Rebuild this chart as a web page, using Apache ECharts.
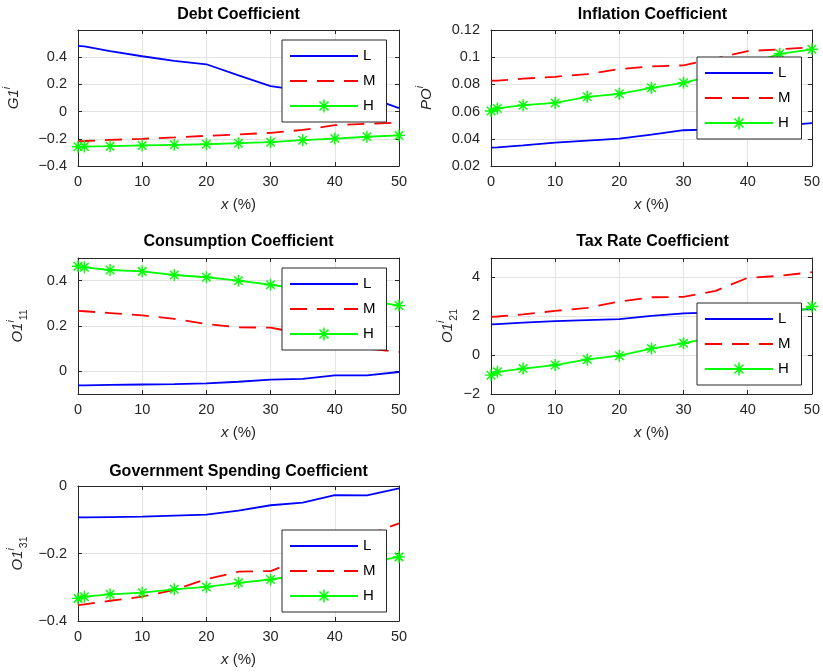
<!DOCTYPE html>
<html>
<head>
<meta charset="utf-8">
<script src="https://cdn.jsdelivr.net/npm/echarts@6/dist/echarts.min.js"></script>
<style>
  html, body { margin: 0; padding: 0; background: #fff; }
  #chart { width: 823px; height: 672px; }
</style>
</head>
<body>
<div id="chart"></div>
<script>
// Share of x (%) at which each coefficient was evaluated
const xPct = [0, 1, 5, 10, 15, 20, 25, 30, 35, 40, 45, 50];
const xTicks = [0, 10, 20, 30, 40, 50];

// Debt coefficient G1^i
const debtL = [0.484, 0.480, 0.445, 0.407, 0.373, 0.348, 0.267, 0.188, 0.155, 0.135, 0.110, 0.025];
const debtM = [-0.217, -0.216, -0.208, -0.200, -0.190, -0.178, -0.168, -0.156, -0.135, -0.100, -0.090, -0.080];
const debtH = [-0.259, -0.257, -0.254, -0.249, -0.244, -0.240, -0.232, -0.225, -0.210, -0.198, -0.185, -0.175];
const debtTicks = [-0.4, -0.2, 0, 0.2, 0.4];

// Inflation coefficient PO^i
const inflL = [0.0335, 0.0337, 0.0352, 0.0372, 0.0387, 0.0401, 0.0430, 0.0463, 0.0470, 0.0482, 0.0497, 0.0515];
const inflM = [0.0827, 0.0828, 0.0842, 0.0856, 0.0876, 0.0913, 0.0932, 0.0940, 0.0990, 0.1045, 0.1058, 0.1073];
const inflH = [0.0605, 0.0623, 0.0647, 0.0664, 0.0709, 0.0731, 0.0775, 0.0812, 0.0870, 0.0950, 0.1025, 0.1058];
const inflTicks = [0.02, 0.04, 0.06, 0.08, 0.1, 0.12];

// Consumption coefficient O1^i_11
const consL = [-0.062, -0.062, -0.060, -0.058, -0.056, -0.053, -0.046, -0.037, -0.033, -0.018, -0.018, -0.003];
const consM = [0.267, 0.265, 0.257, 0.247, 0.231, 0.209, 0.194, 0.193, 0.165, 0.125, 0.100, 0.086];
const consH = [0.464, 0.459, 0.447, 0.441, 0.425, 0.415, 0.400, 0.382, 0.362, 0.338, 0.313, 0.290];
const consTicks = [0, 0.2, 0.4];

// Tax rate coefficient O1^i_21
const taxL = [1.58, 1.60, 1.67, 1.75, 1.80, 1.85, 2.02, 2.15, 2.20, 2.25, 2.31, 2.37];
const taxM = [1.97, 1.99, 2.10, 2.28, 2.43, 2.76, 2.98, 3.00, 3.31, 3.98, 4.08, 4.27];
const taxH = [-1.03, -0.86, -0.69, -0.51, -0.22, -0.03, 0.34, 0.61, 0.95, 1.40, 1.93, 2.50];
const taxTicks = [-2, 0, 2, 4];

// Government spending coefficient O1^i_31
const govL = [-0.093, -0.093, -0.092, -0.091, -0.088, -0.085, -0.073, -0.057, -0.049, -0.027, -0.028, -0.007];
const govM = [-0.353, -0.351, -0.340, -0.328, -0.308, -0.276, -0.254, -0.252, -0.215, -0.175, -0.145, -0.111];
const govH = [-0.333, -0.328, -0.321, -0.316, -0.306, -0.299, -0.287, -0.277, -0.262, -0.245, -0.228, -0.210];
const govTicks = [-0.4, -0.2, 0];

const groupNames = ['L', 'M', 'H'];

const FONT = "'Liberation Sans', Arial, Helvetica, sans-serif";
const INK = '#262626';
const GRID_GRAY = '#e3e3e3';
const LINE_W = 1.8;

// Eight-spoke asterisk marker built from four bars of equal winding
function asteriskPath() {
  const L = 10, W = 1.2;
  const parts = [];
  for (let k = 0; k < 4; k++) {
    const a = k * Math.PI / 4;
    const c = Math.cos(a), s = Math.sin(a);
    const pts = [[-L, -W], [L, -W], [L, W], [-L, W]].map(([px, py]) =>
      [(px * c - py * s).toFixed(3), (px * s + py * c).toFixed(3)]);
    parts.push('M' + pts.map(p => p.join(' ')).join(' L') + ' Z');
  }
  return 'path://' + parts.join(' ');
}
const STAR = asteriskPath();

const panels = [
  { title: 'Debt Coefficient', yName: '{it|G1}{sup|i}', L: debtL, M: debtM, H: debtH,
    yMin: -0.4, yMax: 0.6, yTicks: debtTicks,
    box: { left: 78, top: 30, width: 321, height: 136 }, legend: { left: 282, top: 40 }, nameGap: 52, titleTop: 7 },
  { title: 'Inflation Coefficient', yName: '{it|PO}{sup|i}', L: inflL, M: inflM, H: inflH,
    yMin: 0.02, yMax: 0.12, yTicks: inflTicks,
    box: { left: 491, top: 30, width: 323, height: 136 }, legend: { left: 697, top: 57 }, nameGap: 52, titleTop: 7 },
  { title: 'Consumption Coefficient', yName: '{it|O1}{sup|i}{sub|11}', L: consL, M: consM, H: consH,
    yMin: -0.1, yMax: 0.5, yTicks: consTicks,
    box: { left: 78, top: 258, width: 321, height: 136 }, legend: { left: 282, top: 268 }, nameGap: 48, titleTop: 234 },
  { title: 'Tax Rate Coefficient', yName: '{it|O1}{sup|i}{sub|21}', L: taxL, M: taxM, H: taxH,
    yMin: -2, yMax: 5, yTicks: taxTicks,
    box: { left: 491, top: 258, width: 323, height: 136 }, legend: { left: 697, top: 303 }, nameGap: 24, titleTop: 234 },
  { title: 'Government Spending Coefficient', yName: '{it|O1}{sup|i}{sub|31}', L: govL, M: govM, H: govH,
    yMin: -0.4, yMax: 0, yTicks: govTicks,
    box: { left: 78, top: 486, width: 321, height: 135 }, legend: { left: 282, top: 530 }, nameGap: 48, titleTop: 464 }
];

const fmtNum = v => String(+v.toFixed(6)).replace('-', '\u2212');

const nameRich = {
  it: { fontFamily: FONT, fontSize: 15, fontStyle: 'italic', color: INK, lineHeight: 24 },
  sup: { fontFamily: FONT, fontSize: 10.5, fontStyle: 'italic', color: INK, verticalAlign: 'top', lineHeight: 12 },
  sub: { fontFamily: FONT, fontSize: 10.5, color: INK, verticalAlign: 'bottom', lineHeight: 12 },
  n: { fontFamily: FONT, fontSize: 15, color: INK, lineHeight: 24 }
};

const grids = [], xAxes = [], yAxes = [], series = [], legends = [], titles = [];

panels.forEach((p, i) => {
  grids.push(Object.assign({ containLabel: false }, p.box));

  titles.push({
    text: p.title,
    left: p.box.left + p.box.width / 2,
    top: p.titleTop,
    padding: 0,
    textAlign: 'center',
    textStyle: { fontFamily: FONT, fontSize: 16, fontWeight: 'bold', color: '#000' }
  });

  const tickIn = { show: true, inside: true, length: 4, lineStyle: { color: INK, width: 1 } };
  const line = { show: true, onZero: false, lineStyle: { color: INK, width: 1 } };

  // bottom x axis with labels and grid lines
  xAxes.push({
    type: 'value', gridIndex: i, position: 'bottom', min: 0, max: 50,
    axisLine: line,
    axisTick: Object.assign({ customValues: xTicks }, tickIn),
    axisLabel: { customValues: xTicks, margin: 8, fontFamily: FONT, fontSize: 14.5, color: INK, formatter: fmtNum },
    splitLine: { show: true, lineStyle: { color: GRID_GRAY, width: 1 } },
    name: '{it|x}{n| (%)}', nameLocation: 'middle', nameGap: 27,
    nameTextStyle: { rich: nameRich }
  });
  // top x axis closes the box
  xAxes.push({
    type: 'value', gridIndex: i, position: 'top', min: 0, max: 50,
    axisLine: line,
    axisTick: Object.assign({ customValues: xTicks }, tickIn),
    axisLabel: { show: false },
    splitLine: { show: false }
  });
  // left y axis with labels and grid lines
  yAxes.push({
    type: 'value', gridIndex: i, position: 'left', min: p.yMin, max: p.yMax,
    axisLine: line,
    axisTick: Object.assign({ customValues: p.yTicks }, tickIn),
    axisLabel: { customValues: p.yTicks, margin: 11, fontFamily: FONT, fontSize: 14.5, color: INK, formatter: fmtNum },
    splitLine: { show: true, lineStyle: { color: GRID_GRAY, width: 1 } },
    name: p.yName, nameLocation: 'middle', nameGap: p.nameGap,
    nameTextStyle: { rich: nameRich }
  });
  // right y axis closes the box
  yAxes.push({
    type: 'value', gridIndex: i, position: 'right', min: p.yMin, max: p.yMax,
    axisLine: line,
    axisTick: Object.assign({ customValues: p.yTicks }, tickIn),
    axisLabel: { show: false },
    splitLine: { show: false }
  });

  const xi = i * 2, yi = i * 2;
  series.push({
    name: 'L', type: 'line', xAxisIndex: xi, yAxisIndex: yi, clip: false,
    data: xPct.map((x, k) => [x, p.L[k]]),
    symbol: 'none', lineStyle: { color: '#0000ff', width: LINE_W }, itemStyle: { color: '#0000ff' },
    animation: false, z: 2
  });
  series.push({
    name: 'M', type: 'line', xAxisIndex: xi, yAxisIndex: yi, clip: false,
    data: xPct.map((x, k) => [x, p.M[k]]),
    symbol: 'none', lineStyle: { color: '#ff0000', width: LINE_W, type: [17, 10] }, itemStyle: { color: '#ff0000' },
    animation: false, z: 3
  });
  series.push({
    name: 'H', type: 'line', xAxisIndex: xi, yAxisIndex: yi, clip: false,
    data: xPct.map((x, k) => [x, p.H[k]]),
    symbol: STAR, symbolSize: 12, showAllSymbol: true,
    lineStyle: { color: '#00ff00', width: LINE_W }, itemStyle: { color: '#00ff00' },
    animation: false, z: 4
  });

  legends.push({
    data: [
      { name: groupNames[0], itemStyle: { opacity: 0 } },
      { name: groupNames[1], itemStyle: { opacity: 0 } },
      { name: groupNames[2] }
    ],
    orient: 'vertical', left: p.legend.left, top: p.legend.top,
    backgroundColor: '#fff', borderColor: INK, borderWidth: 1,
    padding: [8, 11, 8, 7], itemWidth: 68, itemHeight: 16, itemGap: 9,
    textStyle: { fontFamily: FONT, fontSize: 15, color: '#000', lineHeight: 16 },
    selectedMode: false, z: 10
  });
});

const chart = echarts.init(document.getElementById('chart'), null, { renderer: 'canvas' });
chart.setOption({
  backgroundColor: '#fff',
  animation: false,
  title: titles,
  grid: grids,
  xAxis: xAxes,
  yAxis: yAxes,
  legend: legends,
  series: series
});
</script>
</body>
</html>
